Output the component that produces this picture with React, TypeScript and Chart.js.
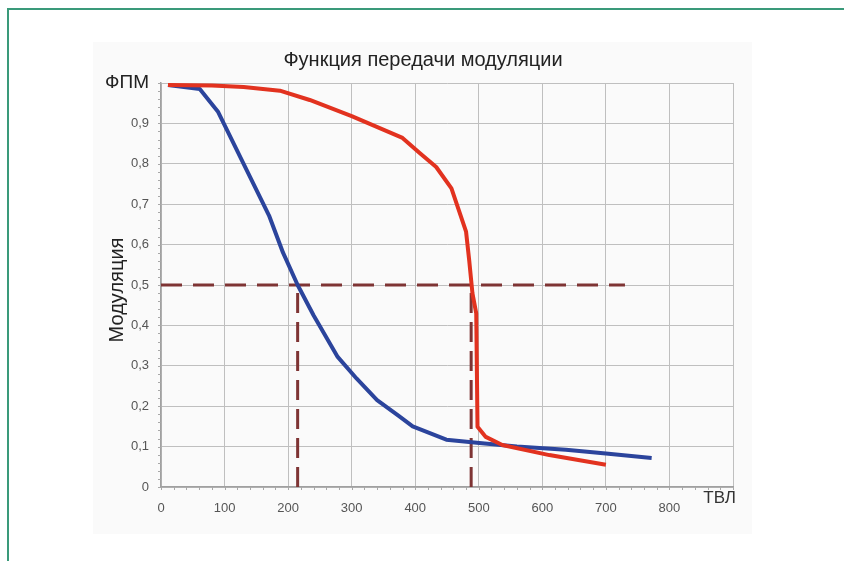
import React, { useEffect, useRef } from "react";
import { Chart, registerables } from "chart.js";

Chart.register(...registerables);

// ---- data ----
const chartTitle = "Функция передачи модуляции";
const yAxisTitle = "Модуляция";
const xUnitLabel = "ТВЛ";
const yTopLabel = "ФПМ";

const xTickValues = [0, 100, 200, 300, 400, 500, 600, 700, 800];
const yTickValues = [0, 0.1, 0.2, 0.3, 0.4, 0.5, 0.6, 0.7, 0.8, 0.9, 1];

const blueX = [11, 61, 90, 170, 192, 215, 240, 278, 308, 340, 374, 396, 449, 501, 560, 637, 700, 772];
const blueY = [0.995, 0.985, 0.928, 0.672, 0.58, 0.5, 0.425, 0.322, 0.268, 0.215, 0.176, 0.15, 0.117, 0.109, 0.1, 0.092, 0.083, 0.072];

const redX = [11, 80, 130, 187, 234, 300, 380, 407, 433, 457, 480, 485, 490, 496, 498, 511, 537, 611, 700];
const redY = [0.995, 0.994, 0.99, 0.981, 0.958, 0.918, 0.864, 0.827, 0.792, 0.739, 0.632, 0.56, 0.48, 0.43, 0.149, 0.124, 0.104, 0.079, 0.055];

const halfLevelX = [0, 730];
const halfLevelY = [0.5, 0.5];
const blueMarkX = [215, 215];
const redMarkX = [488, 488];
const markY = [0, 0.5];

const toPoints = (xs: number[], ys: number[]) => xs.map((x, i) => ({ x, y: ys[i] }));

const FONT = "'Liberation Sans', Arial, sans-serif";

const decorPlugin = {
  id: "decor",
  beforeDraw(chart: any) {
    const { ctx } = chart;
    ctx.save();
    ctx.fillStyle = "#fafafa";
    ctx.fillRect(93, 42, 659, 492);
    ctx.restore();
  },
  afterDraw(chart: any) {
    const { ctx, chartArea, scales } = chart;
    const xs = scales.x;
    const ys = scales.y;
    ctx.save();
    // minor ticks
    ctx.strokeStyle = "#a8a8a8";
    ctx.lineWidth = 1;
    ctx.beginPath();
    for (let v = xs.min; v <= xs.max + 1e-9; v += 20) {
      const px = Math.round(xs.getPixelForValue(v)) + 0.5;
      ctx.moveTo(px, chartArea.bottom);
      ctx.lineTo(px, chartArea.bottom + 3);
    }
    for (let v = ys.min; v <= ys.max + 1e-9; v += 0.02) {
      const py = Math.round(ys.getPixelForValue(v)) + 0.5;
      ctx.moveTo(chartArea.left - 3, py);
      ctx.lineTo(chartArea.left, py);
    }
    ctx.stroke();

    // title
    ctx.fillStyle = "#222";
    ctx.textAlign = "center";
    ctx.textBaseline = "middle";
    ctx.font = `20px ${FONT}`;
    ctx.fillText(chartTitle, 423, 60);

    // x unit label
    ctx.font = `17px ${FONT}`;
    ctx.fillStyle = "#333";
    ctx.textAlign = "right";
    ctx.fillText(xUnitLabel, 736, 498);

    // y axis title
    ctx.translate(117, 290);
    ctx.rotate(-Math.PI / 2);
    ctx.textAlign = "center";
    ctx.fillStyle = "#222";
    ctx.font = `20px ${FONT}`;
    ctx.fillText(yAxisTitle, 0, 0);
    ctx.restore();
  },
};

export default function App() {
  const canvasRef = useRef<HTMLCanvasElement | null>(null);

  useEffect(() => {
    if (!canvasRef.current) return;
    const chart = new Chart(canvasRef.current, {
      type: "scatter",
      data: {
        datasets: [
          {
            data: toPoints(redX, redY),
            showLine: true,
            borderColor: "#e2321f",
            borderWidth: 4,
            pointRadius: 0,
            tension: 0,
            borderJoinStyle: "round",
          },
          {
            data: toPoints(blueX, blueY),
            showLine: true,
            borderColor: "#2b449c",
            borderWidth: 4,
            pointRadius: 0,
            tension: 0,
            borderJoinStyle: "round",
          },
          {
            data: toPoints(halfLevelX, halfLevelY),
            showLine: true,
            borderColor: "#7e3434",
            borderWidth: 3,
            borderDash: [21, 11],
            pointRadius: 0,
          },
          {
            data: toPoints(blueMarkX, markY),
            showLine: true,
            borderColor: "#7e3434",
            borderWidth: 3,
            borderDash: [20, 9],
            pointRadius: 0,
          },
          {
            data: toPoints(redMarkX, markY),
            showLine: true,
            borderColor: "#7e3434",
            borderWidth: 3,
            borderDash: [20, 9],
            pointRadius: 0,
          },
        ],
      },
      options: {
        responsive: false,
        animation: false,
        layout: { padding: { left: 0, right: 111, top: 83, bottom: 0 } },
        plugins: {
          legend: { display: false },
          tooltip: { enabled: false },
          title: { display: false },
        },
        scales: {
          x: {
            type: "linear",
            min: 0,
            max: 900,
            afterBuildTicks: (scale: any) => {
              scale.ticks = [...xTickValues, 900].map((v) => ({ value: v }));
            },
            afterFit: (scale: any) => {
              scale.height = 561 - 487;
            },
            ticks: {
              padding: 14,
              color: "#555",
              font: { family: FONT, size: 13 },
              maxRotation: 0,
              callback: (v: any) => (xTickValues.includes(Number(v)) ? String(v) : ""),
            },
            grid: { color: "#bfbfbf", lineWidth: 1, drawTicks: false },
            border: { color: "#a0a0a0", width: 1.5 },
          },
          y: {
            type: "linear",
            min: 0,
            max: 1,
            afterBuildTicks: (scale: any) => {
              scale.ticks = yTickValues.map((v) => ({ value: v }));
            },
            afterFit: (scale: any) => {
              scale.width = 161;
            },
            ticks: {
              padding: 12,
              color: (c: any) => (c.tick && c.tick.value === 1 ? "#222" : "#555"),
              font: (c: any) =>
                c.tick && c.tick.value === 1
                  ? { family: FONT, size: 19 }
                  : { family: FONT, size: 13 },
              callback: (v: any) =>
                Number(v) === 1 ? yTopLabel : String(Math.round(Number(v) * 10) / 10).replace(".", ","),
            },
            grid: { color: "#bfbfbf", lineWidth: 1, drawTicks: false },
            border: { color: "#a0a0a0", width: 1.5 },
          },
        },
      },
      plugins: [decorPlugin],
    } as any);
    return () => chart.destroy();
  }, []);

  return (
    <div style={{ position: "absolute", left: 0, top: 0, width: 844, height: 561, background: "#fff", overflow: "hidden" }}>
      <canvas ref={canvasRef} width={844} height={561} style={{ display: "block" }} />
      <div
        style={{
          position: "absolute",
          left: 7,
          top: 8,
          width: 900,
          height: 700,
          borderTop: "2px solid #3a9a7a",
          borderLeft: "2px solid #3a9a7a",
          pointerEvents: "none",
        }}
      />
    </div>
  );
}
